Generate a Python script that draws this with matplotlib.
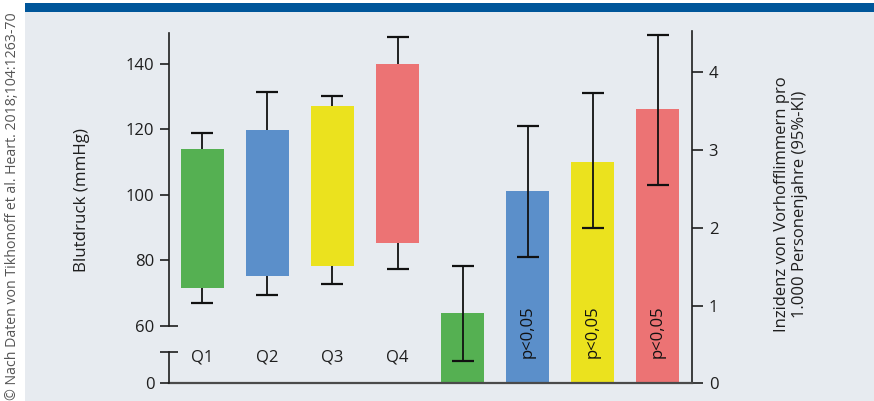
import matplotlib
matplotlib.use("Agg")
import matplotlib.pyplot as plt
from matplotlib.patches import Rectangle

plt.rcParams['font.family'] = ['Open Sans', 'DejaVu Sans']

# ---------------- data ----------------
quartiles = ["Q1", "Q2", "Q3", "Q4"]
bp_low = [71.6, 75.3, 78.3, 85.4]        # bar bottom (mmHg)
bp_high = [114.0, 119.8, 127.2, 140.0]   # bar top (mmHg)
bp_whisk_low = [66.8, 69.4, 72.8, 77.3]
bp_whisk_high = [119.0, 131.4, 130.2, 148.3]

af_rate = [0.91, 2.47, 2.85, 3.53]       # incidence per 1000 person-years
af_ci_low = [0.29, 1.62, 2.00, 2.55]
af_ci_high = [1.51, 3.31, 3.73, 4.48]
af_notes = ["", "p<0,05", "p<0,05", "p<0,05"]

colors = ["#55b052", "#5b8fca", "#ebe21e", "#ec7374"]

left_ticks = [80, 100, 120, 140]
right_ticks = [0, 1, 2, 3, 4]

# ---------------- figure ----------------
W, H = 874, 401
fig = plt.figure(figsize=(W / 100, H / 100), dpi=100)
fig.patch.set_facecolor("white")

def fx(px):
    return px / W

def fy(py):
    return 1 - py / H

# background panel and top band
fig.patches.append(Rectangle((fx(25), 0), 1 - fx(25), fy(12), transform=fig.transFigure,
                             facecolor="#e7ebf0", edgecolor="none", zorder=-10))
fig.patches.append(Rectangle((fx(25), fy(12.3)), 1 - fx(25), fy(3.3) - fy(12.3),
                             transform=fig.transFigure, facecolor="#00569a",
                             edgecolor="none", zorder=-10))

xl, xr = 169, 692
xlim = (-0.515, 7.53)
textc = "#1e1e1e"
spc = "#1e1e1e"

# main axes (incidence, right axis)
y0, ytop = 383.3, 31.0
ax = fig.add_axes([fx(xl), fy(y0), fx(xr) - fx(xl), fy(ytop) - fy(y0)])
ax.set_facecolor("none")
ax.set_xlim(*xlim)
ax.set_ylim(0, (y0 - ytop) / 77.75)
for s in ["left", "top"]:
    ax.spines[s].set_visible(False)
ax.spines["right"].set_color(spc)
ax.spines["right"].set_linewidth(1.2)
ax.spines["bottom"].set_color("#4a4a4a")
ax.spines["bottom"].set_linewidth(1.6)
ax.spines["bottom"].set_bounds(xlim[0], xlim[1])
ax.yaxis.tick_right()
ax.set_yticks(right_ticks)
ax.tick_params(axis="y", direction="out", length=8, width=1.2, color=spc,
               labelsize=12, labelcolor=textc, pad=4)
ax.set_xticks([])

pos_r = [4, 5, 6, 7]
bw = 0.66
ax.bar(pos_r, af_rate, width=bw, color=colors, zorder=2)
yerr = [[r - l for r, l in zip(af_rate, af_ci_low)],
        [h - r for r, h in zip(af_rate, af_ci_high)]]
ax.errorbar(pos_r, af_rate, yerr=yerr, fmt="none", ecolor="#111111",
            elinewidth=1.3, capsize=8, capthick=1.6, zorder=3)
for p, t in zip(pos_r, af_notes):
    if t:
        ax.text(p, 0.66, t, rotation=90, ha="center", va="center",
                fontsize=12, color="#111111", zorder=4)

# blood pressure axes (upper segment 60..)
bp_bot, bp_top = 325.7, 33.0
ax_bp = fig.add_axes([fx(xl), fy(bp_bot), fx(xr) - fx(xl), fy(bp_top) - fy(bp_bot)])
ax_bp.set_facecolor("none")
ax_bp.set_xlim(*xlim)
ax_bp.set_ylim(60, 140 + (64 - bp_top) / 3.271)
for s in ["right", "top", "bottom"]:
    ax_bp.spines[s].set_visible(False)
ax_bp.spines["left"].set_color(spc)
ax_bp.spines["left"].set_linewidth(1.2)
ax_bp.set_xticks([])
ax_bp.set_yticks(left_ticks)
ax_bp.set_yticks([60], labels=["60"], minor=True)
ax_bp.tick_params(axis="y", which="major", direction="out", length=6.5, width=1.2,
                  color=spc, labelsize=12, labelcolor=textc, pad=4)
ax_bp.tick_params(axis="y", which="minor", direction="inout", length=13, width=1.2,
                  color=spc, labelsize=12, labelcolor=textc, pad=4)

pos_l = [0, 1, 2, 3]
heights = [h - l for h, l in zip(bp_high, bp_low)]
ax_bp.bar(pos_l, heights, bottom=bp_low, width=bw, color=colors, zorder=3)
mids = [(a + b) / 2 for a, b in zip(bp_whisk_low, bp_whisk_high)]
yerr_l = [[m - a for m, a in zip(mids, bp_whisk_low)],
          [b - m for m, b in zip(mids, bp_whisk_high)]]
ax_bp.errorbar(pos_l, mids, yerr=yerr_l, fmt="none", ecolor="#111111",
               elinewidth=1.3, capsize=8, capthick=1.6, zorder=2)

# lower segment of broken left axis (0)
lo_bot, lo_top = 383.3, 351.5
ax_lo = fig.add_axes([fx(xl), fy(lo_bot), fx(xr) - fx(xl), fy(lo_top) - fy(lo_bot)])
ax_lo.set_facecolor("none")
ax_lo.set_xlim(*xlim)
ax_lo.set_ylim(0, 1)
for s in ["right", "top", "bottom"]:
    ax_lo.spines[s].set_visible(False)
ax_lo.spines["left"].set_color(spc)
ax_lo.spines["left"].set_linewidth(1.2)
ax_lo.set_xticks([])
ax_lo.set_yticks([0], labels=["0"])
ax_lo.set_yticks([1], labels=[""], minor=True)
ax_lo.tick_params(axis="y", which="major", direction="out", length=6.5, width=1.2,
                  color=spc, labelsize=12, labelcolor=textc, pad=4)
ax_lo.tick_params(axis="y", which="minor", direction="inout", length=13, width=1.2,
                  color=spc)
for p, q in zip(pos_l, quartiles):
    ax_lo.text(p, 0.8, q, ha="center", va="center", fontsize=12, color=textc)

# axis titles
fig.text(fx(82), fy(200), "Blutdruck (mmHg)", rotation=90, ha="center", va="center",
         fontsize=12.2, color=textc)
fig.text(fx(791), fy(204), "Inzidenz von Vorhofflimmern pro\n1.000 Personenjahre (95%-KI)",
         rotation=90, ha="center", va="center", multialignment="center",
         fontsize=12, color=textc, linespacing=1.15)

# credit
fig.text(fx(13), fy(12), "© Nach Daten von Tikhonoff et al. Heart. 2018;104:1263-70",
         rotation=90, ha="center", va="top", fontsize=10.2, color="#555555")

fig.savefig("out.png", dpi=100)
